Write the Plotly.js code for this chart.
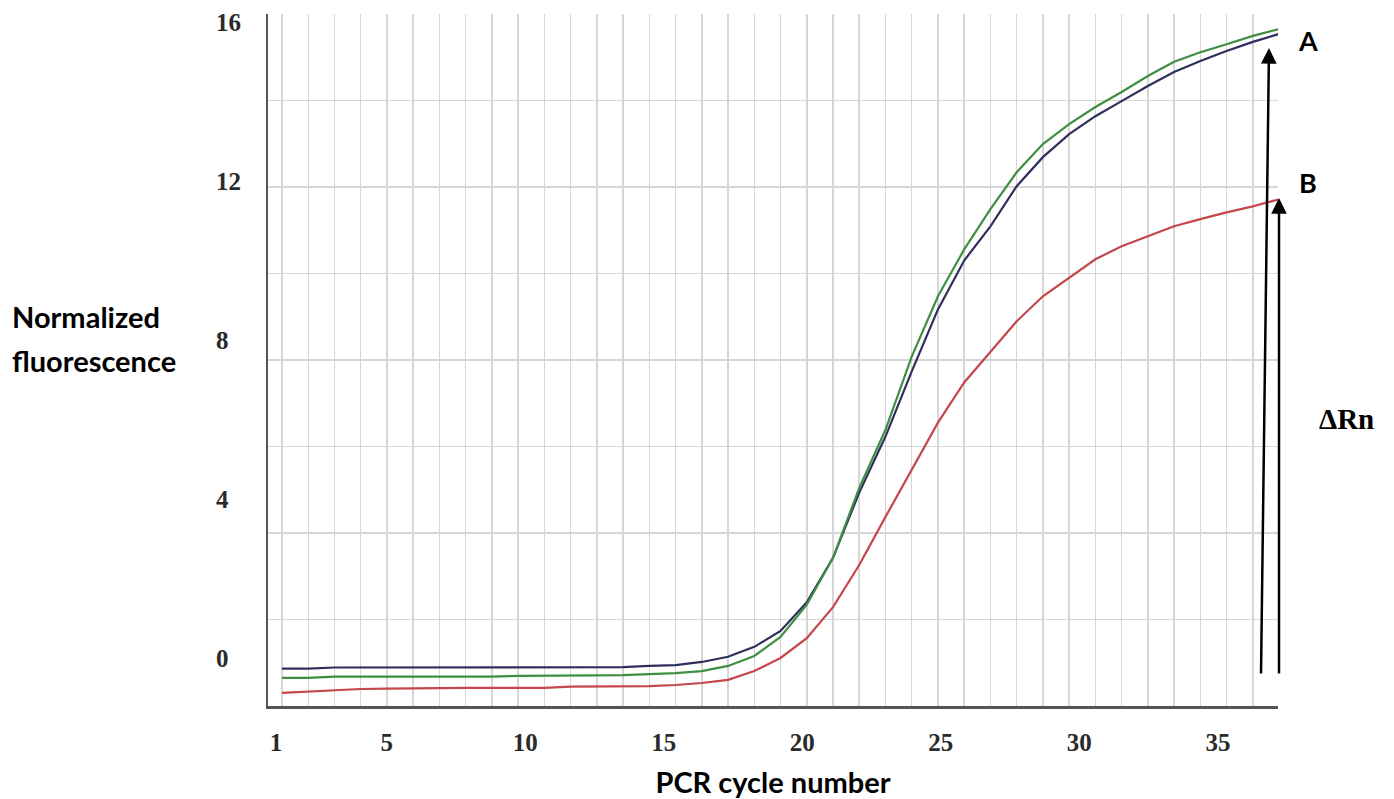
<!DOCTYPE html>
<html>
<head>
<meta charset="utf-8">
<script src="https://cdn.plot.ly/plotly-3.0.1.min.js"></script>
<style>
  html, body { margin: 0; padding: 0; background: #ffffff; }
  #chart { width: 1394px; height: 799px; }
</style>
</head>
<body>
<div id="chart"></div>
<script>
// ---- data ----
const cycles = [1,2,3,4,5,6,7,8,9,10,11,12,13,14,15,16,17,18,19,20,21,22,23,24,25,26,27,28,29,30,31,32,33,34,35,36,37,38,39];

const blueVals = [-0.27,-0.27,-0.24,-0.24,-0.24,-0.24,-0.24,-0.24,-0.24,-0.24,-0.23,-0.23,-0.23,-0.23,-0.20,-0.18,-0.10,0.03,0.28,0.68,1.40,2.52,4.16,5.57,7.21,8.77,10.00,10.86,11.87,12.60,13.18,13.63,14.01,14.39,14.74,15.02,15.27,15.50,15.70];

const greenVals = [-0.50,-0.50,-0.47,-0.47,-0.47,-0.47,-0.47,-0.47,-0.47,-0.45,-0.45,-0.45,-0.44,-0.43,-0.40,-0.38,-0.33,-0.20,0.05,0.53,1.34,2.52,4.28,5.74,7.58,9.10,10.28,11.29,12.22,12.93,13.43,13.86,14.24,14.64,15.00,15.24,15.44,15.65,15.82];

const redVals = [-0.88,-0.85,-0.81,-0.78,-0.77,-0.76,-0.76,-0.75,-0.75,-0.75,-0.75,-0.72,-0.72,-0.71,-0.71,-0.68,-0.63,-0.55,-0.33,0.00,0.50,1.28,2.34,3.55,4.74,5.92,6.93,7.71,8.47,9.10,9.57,10.03,10.36,10.61,10.86,11.04,11.21,11.36,11.54];

const xTickVals = [1, 5, 10, 15, 20, 25, 30, 35];
const xTickText = ['1', '5', '10', '15', '20', '25', '30', '35'];
const yTickVals = [0, 4, 8, 12, 16];
const yTickText = ['0', '4', '8', '12', '16'];

const xTitle = 'PCR cycle number';
const yTitleLines = ['Normalized', 'fluorescence'];
const curveLabels = ['A', 'B'];
const deltaLabel = '\u0394Rn';

// ---- layout helpers (pixel -> paper) ----
const W = 1394, H = 799;
const M = { l: 0, r: 116, t: 14, b: 93 };
const PW = W - M.l - M.r, PH = H - M.t - M.b;
const px = x => (x - M.l) / PW;
const py = y => 1 - (y - M.t) / PH;

const sansBold = 'Lato, "Open Sans", "DejaVu Sans", sans-serif';
const serif = '"Liberation Serif", "DejaVu Serif", serif';

const lineStyle = (c) => ({ color: c, width: 2.2 });

const traces = [
  { x: cycles, y: blueVals, mode: 'lines', line: lineStyle('#2f2f5e'), xaxis: 'x', yaxis: 'y', name: 'blue', hoverinfo: 'x+y' },
  { x: cycles, y: greenVals, mode: 'lines', line: lineStyle('#3f8f42'), xaxis: 'x', yaxis: 'y', name: 'green', hoverinfo: 'x+y' },
  { x: cycles, y: redVals, mode: 'lines', line: lineStyle('#c4474b'), xaxis: 'x', yaxis: 'y', name: 'red', hoverinfo: 'x+y' },
  // empty helper traces so the overlay axes (labels / grid) are created
  { x: [], y: [], mode: 'lines', xaxis: 'x2', yaxis: 'y', hoverinfo: 'skip' },
  { x: [], y: [], mode: 'lines', xaxis: 'x', yaxis: 'y2', hoverinfo: 'skip' },
  { x: [], y: [], mode: 'lines', xaxis: 'x', yaxis: 'y3', hoverinfo: 'skip' }
];

const xDomain = [px(268), 1];
const yRange = [-1.208, 16.201];

const layout = {
  width: W, height: H,
  margin: M,
  paper_bgcolor: '#ffffff',
  plot_bgcolor: '#ffffff',
  showlegend: false,
  xaxis: {
    domain: xDomain,
    range: [0.466, 38.96],
    tick0: 1, dtick: 1,
    showgrid: true, gridcolor: '#d6d6d6', gridwidth: 1.5,
    zeroline: false,
    showline: true, linecolor: '#555555', linewidth: 2.5,
    ticks: '', showticklabels: false,
    fixedrange: true
  },
  xaxis2: {
    overlaying: 'x',
    anchor: 'y',
    side: 'bottom',
    range: [0.711, 37.17],
    tickmode: 'array', tickvals: xTickVals, ticktext: xTickText,
    showgrid: false, zeroline: false, showline: false,
    ticks: 'outside', ticklen: 14, tickcolor: 'rgba(0,0,0,0)',
    tickfont: { family: serif, size: 25, color: '#2a2a2a', weight: 'bold' },
    title: { text: xTitle, font: { family: sansBold, size: 29, color: '#000000', weight: 'bold' }, standoff: 26 },
    fixedrange: true
  },
  yaxis: {
    anchor: 'x',
    range: yRange,
    showgrid: false, zeroline: false,
    showline: true, linecolor: '#555555', linewidth: 2.5,
    ticks: '', showticklabels: false,
    fixedrange: true
  },
  yaxis2: {
    overlaying: 'y',
    anchor: 'x',
    range: [0, 8],
    dtick: 1,
    showgrid: true, gridcolor: '#d6d6d6', gridwidth: 1.5,
    zeroline: false, showline: false,
    ticks: '', showticklabels: false,
    fixedrange: true
  },
  yaxis3: {
    overlaying: 'y',
    anchor: 'free',
    position: px(215),
    side: 'right',
    range: yRange,
    tickmode: 'array', tickvals: yTickVals, ticktext: yTickText,
    showgrid: false, zeroline: false, showline: false,
    ticks: '',
    tickfont: { family: serif, size: 25, color: '#2a2a2a', weight: 'bold' },
    fixedrange: true
  },
  annotations: [
    // y-axis title, two lines
    { xref: 'paper', yref: 'paper', x: px(10), y: py(316), xanchor: 'left', yanchor: 'middle',
      text: yTitleLines[0], showarrow: false, font: { family: sansBold, size: 29, color: '#000', weight: 'bold' } },
    { xref: 'paper', yref: 'paper', x: px(10), y: py(360), xanchor: 'left', yanchor: 'middle',
      text: yTitleLines[1], showarrow: false, font: { family: sansBold, size: 29, color: '#000', weight: 'bold' } },
    // curve labels
    { xref: 'paper', yref: 'paper', x: px(1308), y: py(40), xanchor: 'center', yanchor: 'middle',
      text: curveLabels[0], showarrow: false, font: { family: sansBold, size: 27, color: '#000', weight: 'bold' } },
    { xref: 'paper', yref: 'paper', x: px(1308), y: py(183), xanchor: 'center', yanchor: 'middle',
      text: curveLabels[1], showarrow: false, font: { family: sansBold, size: 27, color: '#000', weight: 'bold' } },
    { xref: 'paper', yref: 'paper', x: px(1346), y: py(419), xanchor: 'center', yanchor: 'middle',
      text: deltaLabel, showarrow: false, font: { family: serif, size: 29, color: '#000', weight: 'bold' } },
    // delta Rn arrows
    { xref: 'paper', yref: 'paper', x: px(1269), y: py(48), ax: -8, ay: 627, axref: 'pixel', ayref: 'pixel',
      text: '', showarrow: true, arrowhead: 2, arrowsize: 1.25, arrowwidth: 2.5, arrowcolor: '#000', standoff: 0, startstandoff: 0 },
    { xref: 'paper', yref: 'paper', x: px(1279), y: py(198), ax: 0, ay: 477, axref: 'pixel', ayref: 'pixel',
      text: '', showarrow: true, arrowhead: 2, arrowsize: 1.25, arrowwidth: 2.5, arrowcolor: '#000', standoff: 0, startstandoff: 0 }
  ]
};

Plotly.newPlot('chart', traces, layout, { staticPlot: true, displayModeBar: false });
</script>
</body>
</html>
